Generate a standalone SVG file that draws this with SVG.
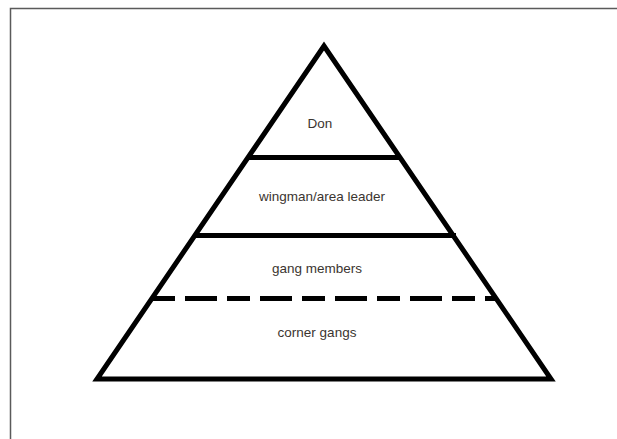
<svg xmlns="http://www.w3.org/2000/svg" width="617" height="439" viewBox="0 0 617 439">
<style>
.frame{stroke:#5a5a5a;stroke-width:1.5;fill:none}
.edge{stroke:#000;stroke-width:5;fill:none;stroke-linejoin:miter;stroke-linecap:butt}
.lbl{font-family:"Liberation Sans",Arial,sans-serif;font-size:13.5px;fill:#3b3530;text-anchor:middle}
</style>
<rect width="617" height="439" fill="#fff"/>
<path class="frame" d="M10.5,439 V8.5 H617"/>
<g id="pyramid">
<polygon class="edge" points="324,46 97,379 551,379"/>
</g>
<g id="connectors">
<line class="edge" x1="248" y1="157.5" x2="400" y2="157.5"/>
<line class="edge" x1="195" y1="235.5" x2="456" y2="235.5"/>
<line class="edge" x1="152" y1="298.5" x2="497" y2="298.5" stroke-dasharray="23 10 32 10"/>
</g>
<g id="tier-don"><text class="lbl" x="320" y="128">Don</text></g>
<g id="tier-wingman"><text class="lbl" x="322" y="201">wingman/area leader</text></g>
<g id="tier-gang-members"><text class="lbl" x="317" y="273">gang members</text></g>
<g id="tier-corner-gangs"><text class="lbl" x="317" y="337">corner gangs</text></g>
</svg>
